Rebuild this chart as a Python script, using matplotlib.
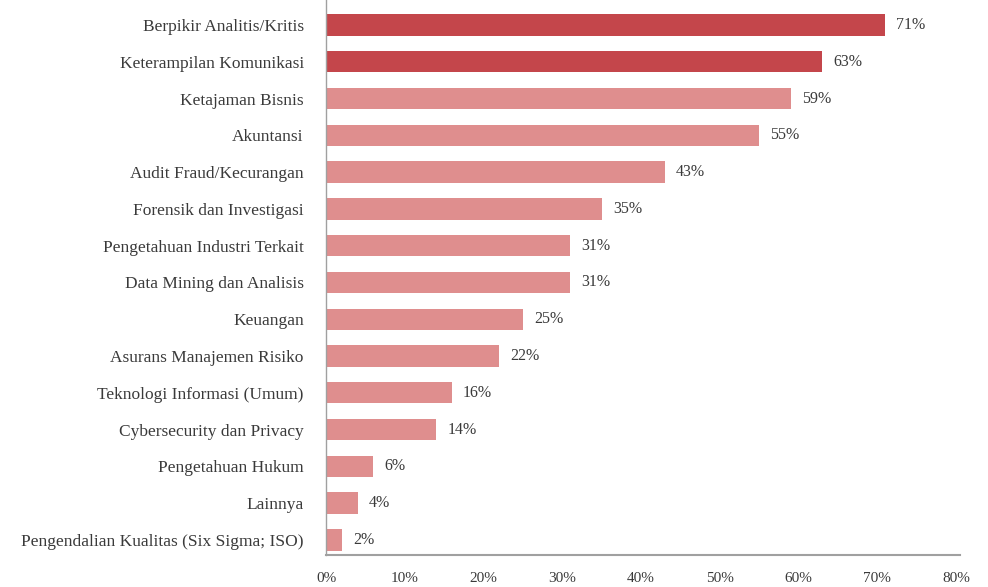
import matplotlib
matplotlib.use("Agg")
import matplotlib.pyplot as plt
from matplotlib.ticker import FuncFormatter

categories = [
    "Berpikir Analitis/Kritis",
    "Keterampilan Komunikasi",
    "Ketajaman Bisnis",
    "Akuntansi",
    "Audit Fraud/Kecurangan",
    "Forensik dan Investigasi",
    "Pengetahuan Industri Terkait",
    "Data Mining dan Analisis",
    "Keuangan",
    "Asurans Manajemen Risiko",
    "Teknologi Informasi (Umum)",
    "Cybersecurity dan Privacy",
    "Pengetahuan Hukum",
    "Lainnya",
    "Pengendalian Kualitas (Six Sigma; ISO)",
]
values = [71, 63, 59, 55, 43, 35, 31, 31, 25, 22, 16, 14, 6, 4, 2]
xticks = [0, 10, 20, 30, 40, 50, 60, 70, 80]

dark = "#c4464b"
light = "#df8e8e"
colors = [dark if i < 2 else light for i in range(len(values))]
txt = "#3a3a3a"

plt.rcParams['font.family'] = ['Liberation Serif', 'DejaVu Serif']

fig = plt.figure(figsize=(9.88, 5.87), dpi=100)
ax = fig.add_axes([326/988, 32/587, 634/988, 1 - 32/587])

y = list(range(len(categories)))
ax.barh(y, values, height=0.58, color=colors)
for yi, v in zip(y, values):
    ax.annotate(f"{v}%", (v, yi), xytext=(8, 0), textcoords="offset points",
                va="center", ha="left", fontsize=11.5, color=txt)

ax.set_yticks(y)
ax.set_yticklabels(categories, fontsize=12.5, color=txt)
ax.set_ylim(14.41, -0.68)
ax.set_xlim(0, 80.5)
ax.set_xticks(xticks)
ax.xaxis.set_major_formatter(FuncFormatter(lambda v, p: f"{int(v)}%"))
ax.tick_params(axis='x', length=0, pad=12, labelsize=11, labelcolor=txt)
ax.tick_params(axis='y', length=0, pad=16)

for s in ["top", "right"]:
    ax.spines[s].set_visible(False)
ax.spines["left"].set_color("#a0a0a0")
ax.spines["bottom"].set_color("#a0a0a0")
ax.spines["left"].set_linewidth(1.0)
ax.spines["bottom"].set_linewidth(1.5)

fig.savefig("out.png", dpi=100)
